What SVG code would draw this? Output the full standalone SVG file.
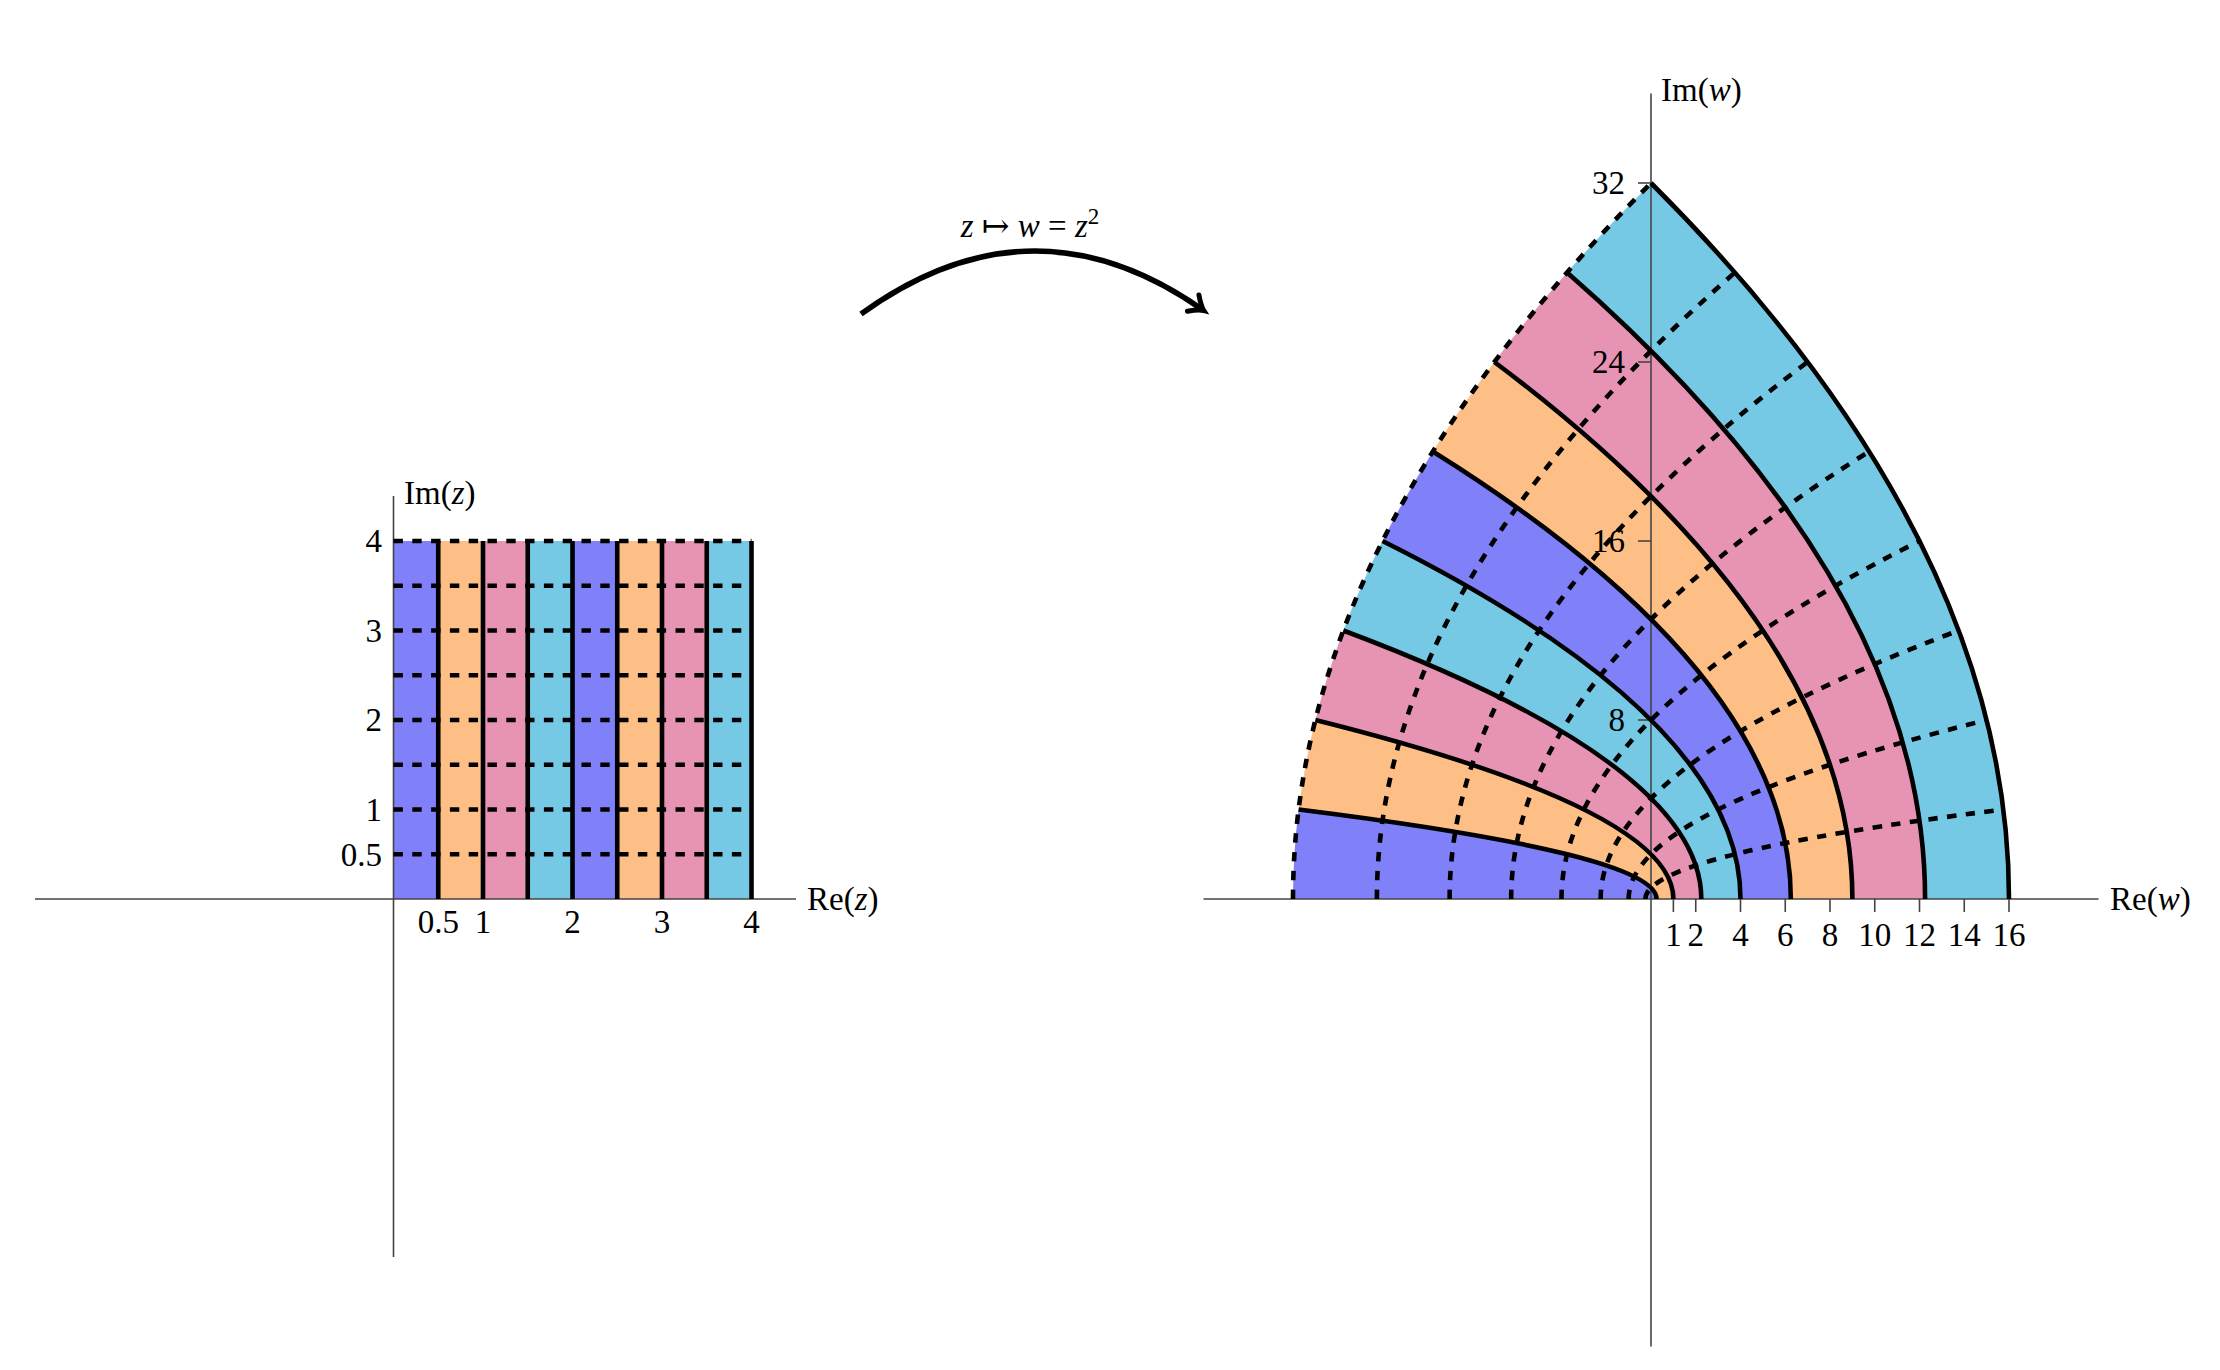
<svg xmlns="http://www.w3.org/2000/svg" width="2220" height="1370" viewBox="0 0 2220 1370">
<style>
.ax{stroke:#444;stroke-width:1.6;fill:none}
.sol{stroke:#000;stroke-width:4.6;fill:none}
.dsh{stroke:#000;stroke-width:4.6;fill:none;stroke-dasharray:9.4 9.4}
.cb{fill:#8080F9}
.co{fill:#FDBF85}
.cp{fill:#E693B4}
.cc{fill:#75C9E4}
text{font-family:"Liberation Serif","DejaVu Serif",serif;font-size:33px;fill:#000}
.it{font-style:italic}
.e{text-anchor:end}
.m{text-anchor:middle}
</style>
<defs>
<marker id="arr" markerUnits="userSpaceOnUse" viewBox="-16 -16 32 32" markerWidth="32" markerHeight="32" refX="0" refY="0" orient="auto">
<path d="M-12,-10 Q-4,-2 1,0 Q-4,2 -12,10" fill="none" stroke="#000" stroke-width="5" stroke-linecap="round"/>
</marker>
</defs>
<rect width="2220" height="1370" fill="#fff"/>

<g id="left-plot">
<g id="left-fills">
<rect class="cb" x="393.5" y="541" width="44.75" height="358"/>
<rect class="co" x="438.25" y="541" width="44.75" height="358"/>
<rect class="cp" x="483" y="541" width="44.75" height="358"/>
<rect class="cc" x="527.75" y="541" width="44.75" height="358"/>
<rect class="cb" x="572.5" y="541" width="44.75" height="358"/>
<rect class="co" x="617.25" y="541" width="44.75" height="358"/>
<rect class="cp" x="662" y="541" width="44.75" height="358"/>
<rect class="cc" x="706.75" y="541" width="44.75" height="358"/>
</g>
<g id="left-axes">
<line class="ax" x1="35" y1="899" x2="796" y2="899"/>
<line class="ax" x1="393.5" y1="1257" x2="393.5" y2="496"/>
</g>
<g id="left-dashed">
<line class="dsh" x1="393.5" y1="854.25" x2="751.5" y2="854.25"/>
<line class="dsh" x1="393.5" y1="809.5" x2="751.5" y2="809.5"/>
<line class="dsh" x1="393.5" y1="764.75" x2="751.5" y2="764.75"/>
<line class="dsh" x1="393.5" y1="720" x2="751.5" y2="720"/>
<line class="dsh" x1="393.5" y1="675.25" x2="751.5" y2="675.25"/>
<line class="dsh" x1="393.5" y1="630.5" x2="751.5" y2="630.5"/>
<line class="dsh" x1="393.5" y1="585.75" x2="751.5" y2="585.75"/>
<line class="dsh" x1="393.5" y1="541" x2="751.5" y2="541"/>
</g>
<g id="left-solid">
<line class="sol" x1="438.25" y1="899" x2="438.25" y2="541"/>
<line class="sol" x1="483" y1="899" x2="483" y2="541"/>
<line class="sol" x1="527.75" y1="899" x2="527.75" y2="541"/>
<line class="sol" x1="572.5" y1="899" x2="572.5" y2="541"/>
<line class="sol" x1="617.25" y1="899" x2="617.25" y2="541"/>
<line class="sol" x1="662" y1="899" x2="662" y2="541"/>
<line class="sol" x1="706.75" y1="899" x2="706.75" y2="541"/>
<line class="sol" x1="751.5" y1="899" x2="751.5" y2="541"/>
</g>
<g id="left-labels">
<text x="404" y="504">Im(<tspan class="it">z</tspan>)</text>
<text x="807" y="910">Re(<tspan class="it">z</tspan>)</text>
<text class="m" x="438.25" y="933">0.5</text>
<text class="m" x="483" y="933">1</text>
<text class="m" x="572.5" y="933">2</text>
<text class="m" x="662" y="933">3</text>
<text class="m" x="751.5" y="933">4</text>
<text class="e" x="382" y="865.5">0.5</text>
<text class="e" x="382" y="820.5">1</text>
<text class="e" x="382" y="731">2</text>
<text class="e" x="382" y="641.5">3</text>
<text class="e" x="382" y="552">4</text>
</g>
</g>

<g id="right-plot">
<g id="right-fills">
<path class="cb" d="M1651,899 L1656.59,899 Q1656.59,854.25 1298.59,809.5 Q1293,854.25 1293,899 Z"/>
<path class="co" d="M1656.59,899 L1673.38,899 Q1673.38,809.5 1315.38,720 Q1304.19,764.75 1298.59,809.5 Q1656.59,854.25 1656.59,899 Z"/>
<path class="cp" d="M1673.38,899 L1701.34,899 Q1701.34,764.75 1343.34,630.5 Q1326.56,675.25 1315.38,720 Q1673.38,809.5 1673.38,899 Z"/>
<path class="cc" d="M1701.34,899 L1740.5,899 Q1740.5,720 1382.5,541 Q1360.13,585.75 1343.34,630.5 Q1701.34,764.75 1701.34,899 Z"/>
<path class="cb" d="M1740.5,899 L1790.84,899 Q1790.84,675.25 1432.84,451.5 Q1404.88,496.25 1382.5,541 Q1740.5,720 1740.5,899 Z"/>
<path class="co" d="M1790.84,899 L1852.38,899 Q1852.38,630.5 1494.38,362 Q1460.81,406.75 1432.84,451.5 Q1790.84,675.25 1790.84,899 Z"/>
<path class="cp" d="M1852.38,899 L1925.09,899 Q1925.09,585.75 1567.09,272.5 Q1527.94,317.25 1494.38,362 Q1852.38,630.5 1852.38,899 Z"/>
<path class="cc" d="M1925.09,899 L2009,899 Q2009,541 1651,183 Q1606.25,227.75 1567.09,272.5 Q1925.09,585.75 1925.09,899 Z"/>
</g>
<g id="right-axes">
<line class="ax" x1="1203.5" y1="899" x2="2098.5" y2="899"/>
<line class="ax" x1="1651" y1="1346.5" x2="1651" y2="93.5"/>
<line class="ax" x1="1673.38" y1="899" x2="1673.38" y2="912"/>
<line class="ax" x1="1695.75" y1="899" x2="1695.75" y2="912"/>
<line class="ax" x1="1740.5" y1="899" x2="1740.5" y2="912"/>
<line class="ax" x1="1785.25" y1="899" x2="1785.25" y2="912"/>
<line class="ax" x1="1830" y1="899" x2="1830" y2="912"/>
<line class="ax" x1="1874.75" y1="899" x2="1874.75" y2="912"/>
<line class="ax" x1="1919.5" y1="899" x2="1919.5" y2="912"/>
<line class="ax" x1="1964.25" y1="899" x2="1964.25" y2="912"/>
<line class="ax" x1="2009" y1="899" x2="2009" y2="912"/>
<line class="ax" x1="1638" y1="720" x2="1651" y2="720"/>
<line class="ax" x1="1638" y1="541" x2="1651" y2="541"/>
<line class="ax" x1="1638" y1="362" x2="1651" y2="362"/>
<line class="ax" x1="1638" y1="183" x2="1651" y2="183"/>
</g>
<g id="right-dashed">
<path class="dsh" d="M1645.41,899 Q1645.41,854.25 2003.41,809.5"/>
<path class="dsh" d="M1628.63,899 Q1628.63,809.5 1986.63,720"/>
<path class="dsh" d="M1600.66,899 Q1600.66,764.75 1958.66,630.5"/>
<path class="dsh" d="M1561.5,899 Q1561.5,720 1919.5,541"/>
<path class="dsh" d="M1511.16,899 Q1511.16,675.25 1869.16,451.5"/>
<path class="dsh" d="M1449.63,899 Q1449.63,630.5 1807.63,362"/>
<path class="dsh" d="M1376.91,899 Q1376.91,585.75 1734.91,272.5"/>
<path class="dsh" d="M1293,899 Q1293,541 1651,183"/>
</g>
<g id="right-solid">
<path class="sol" d="M1656.59,899 Q1656.59,854.25 1298.59,809.5"/>
<path class="sol" d="M1673.38,899 Q1673.38,809.5 1315.38,720"/>
<path class="sol" d="M1701.34,899 Q1701.34,764.75 1343.34,630.5"/>
<path class="sol" d="M1740.5,899 Q1740.5,720 1382.5,541"/>
<path class="sol" d="M1790.84,899 Q1790.84,675.25 1432.84,451.5"/>
<path class="sol" d="M1852.38,899 Q1852.38,630.5 1494.38,362"/>
<path class="sol" d="M1925.09,899 Q1925.09,585.75 1567.09,272.5"/>
<path class="sol" d="M2009,899 Q2009,541 1651,183"/>
</g>
<g id="right-labels">
<text x="1661" y="101">Im(<tspan class="it">w</tspan>)</text>
<text x="2110" y="910">Re(<tspan class="it">w</tspan>)</text>
<text class="m" x="1673.38" y="946">1</text>
<text class="m" x="1695.75" y="946">2</text>
<text class="m" x="1740.5" y="946">4</text>
<text class="m" x="1785.25" y="946">6</text>
<text class="m" x="1830" y="946">8</text>
<text class="m" x="1874.75" y="946">10</text>
<text class="m" x="1919.5" y="946">12</text>
<text class="m" x="1964.25" y="946">14</text>
<text class="m" x="2009" y="946">16</text>
<text class="e" x="1625" y="731">8</text>
<text class="e" x="1625" y="552">16</text>
<text class="e" x="1625" y="373">24</text>
<text class="e" x="1625" y="194">32</text>
</g>
</g>

<g id="connectors">
<path d="M861,314 Q1032,190 1203,310" fill="none" stroke="#000" stroke-width="5.5" marker-end="url(#arr)"/>
<text class="m" x="1030" y="237" font-size="35"><tspan class="it">z</tspan> ↦ <tspan class="it">w</tspan> = <tspan class="it">z</tspan><tspan font-size="23" dy="-13">2</tspan></text>
</g>
</svg>
